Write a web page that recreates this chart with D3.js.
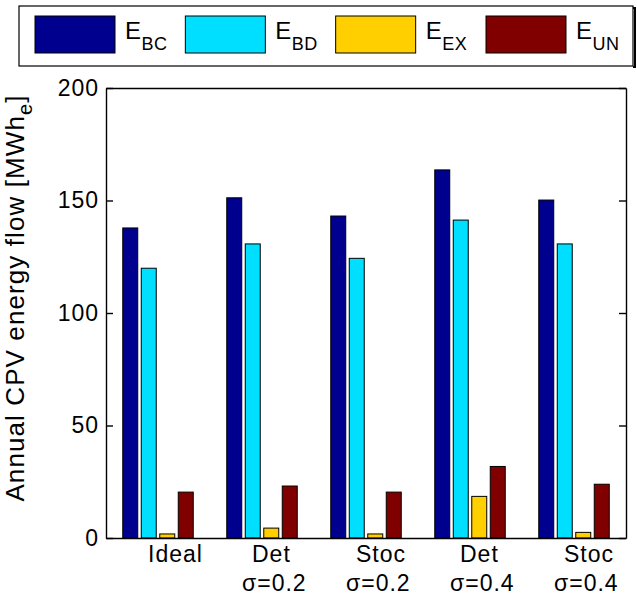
<!DOCTYPE html>
<html>
<head>
<meta charset="utf-8">
<script src="https://cdn.jsdelivr.net/npm/d3@7"></script>
<style>
  body { margin: 0; background: #fff; }
  svg { display: block; font-family: "Liberation Sans", Arial, sans-serif; }
</style>
</head>
<body>
<svg id="chart"></svg>
<script>
// chart values
const categories = ["Ideal", "Det s0.2", "Stoc s0.2", "Det s0.4", "Stoc s0.4"];
const labelTop = ["Ideal", "Det", "Stoc", "Det", "Stoc"];
const labelBottom = ["", "σ=0.2", "σ=0.2", "σ=0.4", "σ=0.4"];
const series = ["BC", "BD", "EX", "UN"];
const eBC = [137.8, 151.2, 143.1, 163.6, 150.2];
const eBD = [119.9, 130.7, 124.3, 141.3, 130.7];
const eEX = [1.8, 4.4, 1.8, 18.5, 2.5];
const eUN = [20.4, 23.1, 20.4, 31.8, 23.9];
const yTicks = [0, 50, 100, 150, 200];
const colors = ["#00008f", "#00dfff", "#ffcf00", "#800000"];

const W = 637, H = 596;
const margin = { top: 88, right: 11, bottom: 58, left: 106 };
const width = W - margin.left - margin.right;
const height = H - margin.top - margin.bottom;

const values = [eBC, eBD, eEX, eUN];
const data = categories.map((c, i) => ({
  cat: c,
  vals: series.map((s, j) => ({ key: s, v: values[j][i], color: colors[j] }))
}));

const svg = d3.select('#chart')
  .attr('width', W)
  .attr('height', H);

const g = svg.append('g')
  .attr('transform', `translate(${margin.left}, ${margin.top})`);

// scales
const x0 = d3.scaleBand()
  .domain(categories)
  .range([0, width])
  .padding(0);

const x1 = d3.scaleBand()
  .domain(series)
  .range([-37, 37])
  .paddingInner(0.19)
  .paddingOuter(0.095);

const y = d3.scaleLinear()
  .domain([0, 200])
  .range([height, 0]);

// bars
const groups = g.append('g')
  .attr('class', 'bar-container')
  .selectAll('g')
  .data(data)
  .enter().append('g')
  .attr('transform', d => `translate(${x0(d.cat) + x0.bandwidth() / 2}, 0)`);

groups.selectAll('rect')
  .data(d => d.vals)
  .enter().append('rect')
  .attr('x', d => x1(d.key))
  .attr('y', d => y(d.v))
  .attr('width', x1.bandwidth())
  .attr('height', d => height - y(d.v))
  .attr('fill', d => d.color)
  .attr('stroke', '#000')
  .attr('stroke-width', 1);

// axes (ticks point inward, like the original)
const yAxis = d3.axisLeft(y)
  .tickValues(yTicks)
  .tickSizeInner(-7)
  .tickSizeOuter(0)
  .tickPadding(7);

const yAxisR = d3.axisRight(y)
  .tickValues(yTicks)
  .tickSizeInner(-7)
  .tickSizeOuter(0)
  .tickFormat('');

const xTop = d3.axisTop(x0).tickSize(0).tickFormat('');
const xBottom = d3.axisBottom(x0).tickSize(0).tickFormat('');

g.append('g').attr('class', 'axis x')
  .attr('transform', `translate(0, ${height})`)
  .call(xBottom);

g.append('g').attr('class', 'axis top')
  .call(xTop);

g.append('g').attr('class', 'axis y')
  .call(yAxis)
  .selectAll('text')
  .attr('font-size', 23)
  .attr('letter-spacing', 1)
  .attr('font-family', '"Liberation Sans", Arial, sans-serif')
  .attr('fill', '#000');

g.append('g').attr('class', 'axis yr')
  .attr('transform', `translate(${width}, 0)`)
  .call(yAxisR);

g.selectAll('.axis path, .axis line')
  .attr('stroke', '#000')
  .attr('stroke-width', 1.4);

// category labels
const xl = g.append('g').attr('class', 'xlabels')
  .attr('font-size', 23)
  .attr('letter-spacing', 1);
categories.forEach((c, i) => {
  const cx = x0(c) + x0.bandwidth() / 2;
  xl.append('text')
    .attr('x', cx - 10)
    .attr('y', height + 24)
    .text(labelTop[i]);
  if (labelBottom[i]) {
    xl.append('text')
      .attr('x', cx - 20)
      .attr('y', height + 53)
      .text(labelBottom[i]);
  }
});

// y label
const yl = svg.append('text')
  .attr('transform', `translate(24, ${margin.top + height / 2 - 15}) rotate(-90)`)
  .attr('text-anchor', 'middle')
  .attr('letter-spacing', 1.1)
  .attr('font-size', 26);
yl.append('tspan').text('Annual CPV energy flow [MWh');
yl.append('tspan').attr('font-size', 20).attr('dy', 8).text('e');
yl.append('tspan').attr('dy', -8).text(']');

// legend
const legend = svg.append('g').attr('class', 'legend');
legend.append('rect')
  .attr('x', 19).attr('y', 6)
  .attr('width', 614).attr('height', 60)
  .attr('fill', '#fff')
  .attr('stroke', '#000')
  .attr('stroke-width', 1.2);
legend.append('path')
  .attr('d', 'M633,8 H635 V67 H633')
  .attr('fill', 'none')
  .attr('stroke', '#000')
  .attr('stroke-width', 2);

const lx = d3.scaleLinear().domain([0, 3]).range([35, 486]);
series.forEach((s, i) => {
  legend.append('rect')
    .attr('x', lx(i)).attr('y', 16)
    .attr('width', 80).attr('height', 37)
    .attr('fill', colors[i])
    .attr('stroke', '#000')
    .attr('stroke-width', 1);
  const t = legend.append('text')
    .attr('x', lx(i) + 90)
    .attr('y', 39)
    .attr('letter-spacing', 0.5)
    .attr('font-size', 24);
  t.append('tspan').text('E');
  t.append('tspan').attr('font-size', 18).attr('dy', 11).text(s);
});
</script>
</body>
</html>
